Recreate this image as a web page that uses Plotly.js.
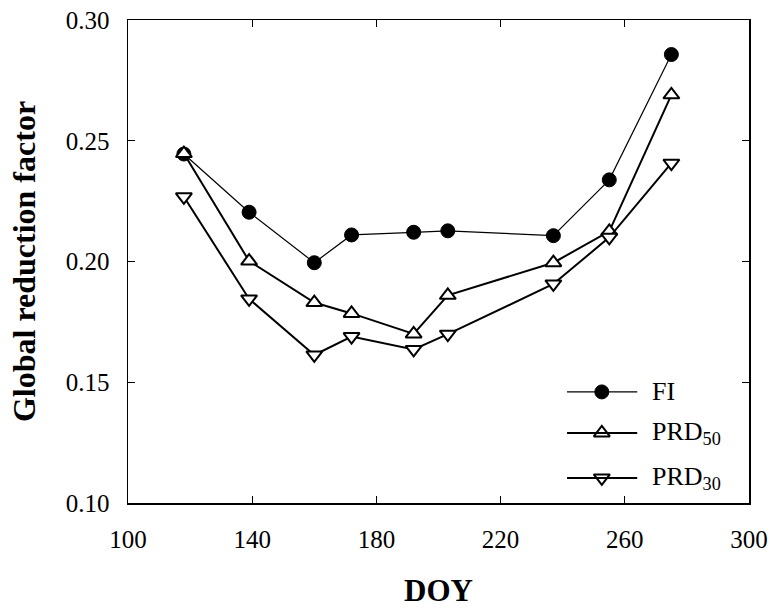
<!DOCTYPE html>
<html>
<head>
<meta charset="utf-8">
<script src="https://cdn.plot.ly/plotly-3.0.1.min.js"></script>
<style>
html,body{margin:0;padding:0;background:#fff;}
#chart{width:771px;height:608px;}
</style>
</head>
<body>
<div id="chart"></div>
<script>
// ---- data ----
var doy   = [118, 139, 160, 172, 192, 203, 237, 255, 275];
var fi    = [0.2445, 0.2204, 0.1995, 0.2110, 0.2121, 0.2127, 0.2107, 0.2338, 0.2857];
var prd50 = [0.2447, 0.2002, 0.1830, 0.1785, 0.1700, 0.1860, 0.1995, 0.2125, 0.2690];
var prd30 = [0.2268, 0.1845, 0.1613, 0.1689, 0.1636, 0.1699, 0.1907, 0.2100, 0.2407];
var seriesNames = ['FI', 'PRD<sub>50</sub>', 'PRD<sub>30</sub>'];
var xTicks = [100, 140, 180, 220, 260, 300];
var yTicks = [0.10, 0.15, 0.20, 0.25, 0.30];
var yTickText = ['0.10', '0.15', '0.20', '0.25', '0.30'];

var FONT = 'Liberation Serif, Times New Roman, serif';
var styles = [
  {symbol: 'circle', size: 14, color: '#000', lw: 1.2, mlw: 1},
  {symbol: 'triangle-up', size: 14, color: '#fff', lw: 2, mlw: 2},
  {symbol: 'triangle-down', size: 14, color: '#fff', lw: 2, mlw: 2}
];
var series = [fi, prd50, prd30];

var traces = series.map(function (ys, i) {
  var s = styles[i];
  return {
    x: doy, y: ys, type: 'scatter', mode: 'lines+markers',
    name: seriesNames[i], showlegend: false, cliponaxis: false,
    line: {color: '#000', width: s.lw},
    marker: {symbol: s.symbol, size: s.size, color: s.color,
             line: {color: '#000', width: s.mlw}}
  };
});

// custom legend (paper coordinates)
var legX0 = 0.707, legXm = 0.763, legX1 = 0.820, legTextX = 0.840;
var legRows = [0.230, 0.145, 0.052];
var shapes = [], annotations = [];
series.forEach(function (ys, i) {
  var s = styles[i];
  shapes.push({type: 'line', xref: 'paper', yref: 'paper',
    x0: legX0, x1: legX1, y0: legRows[i], y1: legRows[i],
    line: {color: '#000', width: s.lw}});
  traces.push({
    x: [legXm], y: [legRows[i]], xaxis: 'x2', yaxis: 'y2',
    type: 'scatter', mode: 'markers', showlegend: false, hoverinfo: 'skip',
    cliponaxis: false,
    marker: {symbol: s.symbol, size: s.size, color: s.color,
             line: {color: '#000', width: s.mlw}}
  });
  annotations.push({xref: 'paper', yref: 'paper', x: legTextX, y: legRows[i],
    xanchor: 'left', yanchor: 'middle', showarrow: false,
    text: seriesNames[i], font: {family: FONT, size: 26, color: '#000'}});
});

var layout = {
  width: 771, height: 608,
  margin: {l: 128, r: 22, t: 20, b: 105},
  paper_bgcolor: '#fff', plot_bgcolor: '#fff',
  showlegend: false,
  font: {family: FONT, color: '#000'},
  xaxis: {
    range: [100, 300], tickvals: xTicks, ticktext: xTicks.map(String),
    ticks: 'inside', ticklen: 7, tickwidth: 1, tickcolor: '#000',
    showline: true, linecolor: '#000', linewidth: 1.5, mirror: 'ticks',
    showgrid: false, zeroline: false,
    tickfont: {family: FONT, size: 25, color: '#000'},
    ticklabelstandoff: 13,
    title: {text: '<b>DOY</b>', font: {family: FONT, size: 31, color: '#000'}, standoff: 28}
  },
  yaxis: {
    range: [0.10, 0.30], tickvals: yTicks, ticktext: yTickText,
    ticks: 'inside', ticklen: 7, tickwidth: 1, tickcolor: '#000',
    showline: true, linecolor: '#000', linewidth: 1.5, mirror: 'ticks',
    showgrid: false, zeroline: false,
    tickfont: {family: FONT, size: 25, color: '#000'},
    ticklabelstandoff: 12,
    title: {text: '<b>Global reduction factor</b>', font: {family: FONT, size: 32, color: '#000'}, standoff: 20}
  },
  xaxis2: {overlaying: 'x', range: [0, 1], visible: false, fixedrange: true},
  yaxis2: {overlaying: 'y', range: [0, 1], visible: false, fixedrange: true},
  shapes: shapes,
  annotations: annotations
};

Plotly.newPlot('chart', traces, layout, {displayModeBar: false, staticPlot: true});
</script>
</body>
</html>
